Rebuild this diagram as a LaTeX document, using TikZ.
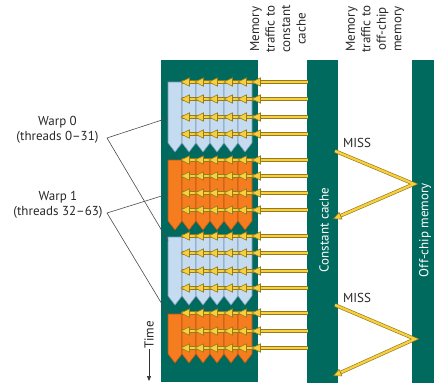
\documentclass[tikz,border=0pt]{standalone}
\usepackage{fontspec}
\setmainfont{PT Sans}
\usetikzlibrary{arrows.meta,calc}
\definecolor{tealc}{RGB}{0,106,94}
\definecolor{lblue}{RGB}{197,220,240}
\definecolor{dblue}{RGB}{120,150,180}
\definecolor{orng}{RGB}{245,125,32}
\definecolor{dorng}{RGB}{185,85,15}
\definecolor{yel}{RGB}{247,208,60}
\definecolor{dyel}{RGB}{150,122,30}
\definecolor{txt}{RGB}{40,40,40}
\tikzset{
  bar/.style={fill=tealc,draw=none},
  lbl/.style={align=center,font=\fontsize{13}{15}\selectfont,text=txt,inner sep=0pt},
  hdr/.style={align=center,rotate=90,font=\fontsize{13}{15.5}\selectfont,text=txt,inner sep=0pt},
  barlbl/.style={rotate=90,font=\fontsize{13}{15}\selectfont,text=white,inner sep=0pt},
  leader/.style={draw=black!70,line width=0.6pt},
  yout/.style={draw=dyel,line width=3.6pt,line join=miter},
  yin/.style={draw=yel,line width=2.3pt,line join=miter},
  yhead/.style={fill=yel,draw=dyel,line width=0.6pt,line join=miter},
}
\newcommand{\warpblock}[4]{%
  \foreach \k in {0,...,5}{%
    \pgfmathsetmacro{\xa}{168+14*\k}%
    \pgfmathsetmacro{\xb}{\xa+14}%
    \pgfmathsetmacro{\xm}{\xa+7}%
    \filldraw[fill=#3,draw=#4,line width=0.6pt] (\xa,#1) -- (\xb,#1) -- (\xb,#2-9) -- (\xm,#2) -- (\xa,#2-9) -- cycle;
  }%
}
\begin{document}
\begin{tikzpicture}[x=1pt,y=-1pt]
\useasboundingbox (0,0) rectangle (436,383);
\fill[white] (0,0) rectangle (436,383);
% bars
\path[bar] (161,60) rectangle (258,382);
\path[bar] (307,60) rectangle (338,383);
\path[bar] (412,60) rectangle (434,383);
% warp blocks
\warpblock{82}{152}{lblue}{dblue}
\warpblock{160}{230}{orng}{dorng}
\warpblock{237}{305}{lblue}{dblue}
\warpblock{314}{363}{orng}{dorng}
% yellow traffic arrows
\foreach \y in {82,99,117,134,160,176,193,210,236,253,271,288,313,331,348}{
  \draw[yout] (182,\y) -- (308,\y);
  \draw[yin] (182,\y) -- (308,\y);
  \foreach \t in {181,195,209,224,238,252}{
    \filldraw[yhead] (\t,\y) -- (\t+8.5,\y-4.2) -- (\t+8.5,\y+4.2) -- cycle;
  }
}
% headers
\node[hdr] (h1) at (278,29) {Memory\\traffic to\\constant\\cache};
\node[hdr] (h2) at (375,29) {Memory\\traffic to\\off-chip\\memory};
% bar labels
\node[barlbl] (cc) at (324,230) {Constant cache};
\node[barlbl] (om) at (425,230) {Off-chip memory};
% MISS paths
\coordinate (m1s) at (335,151);
\coordinate (m1a) at (414,184);
\coordinate (m1e) at (333,219);
\coordinate (m2s) at (335,305);
\coordinate (m2a) at (415,339);
\coordinate (m2e) at (333,376);
\foreach \s/\a/\e in {m1s/m1a/m1e,m2s/m2a/m2e}{
  \draw[yout,shorten >=7pt] (\s) -- (\a) -- (\e);
  \draw[yin,-{Triangle[length=8.5pt,width=8pt,line width=0.6pt,color=dyel,fill=yel]}] (\s) -- (\a) -- (\e);
}
\node[lbl] (miss1) at (357,143) {MISS};
\node[lbl] (miss2) at (357,298) {MISS};
% warp labels
\node[lbl] (w0) at (57.5,129.5) {Warp 0\\(threads 0–31)};
\node[lbl] (w1) at (58,205) {Warp 1\\(threads 32–63)};
\coordinate (w0p) at (107,138);
\coordinate (w1p) at (107,213);
\coordinate (b1) at (168,118);
\coordinate (b2) at (168,194);
\coordinate (b3) at (168,241);
\coordinate (b4) at (168,314);
\draw[leader] (b1) -- (w0p) -- (b3);
\draw[leader] (b2) -- (w1p) -- (b4);
% time
\node[lbl,rotate=90] (time) at (149,335) {Time};
\coordinate (tend) at (149,381);
\draw[draw=black!80,line width=0.6pt,-{Triangle[length=5pt,width=4pt]}] (time.west) -- (tend);
\end{tikzpicture}
\end{document}
